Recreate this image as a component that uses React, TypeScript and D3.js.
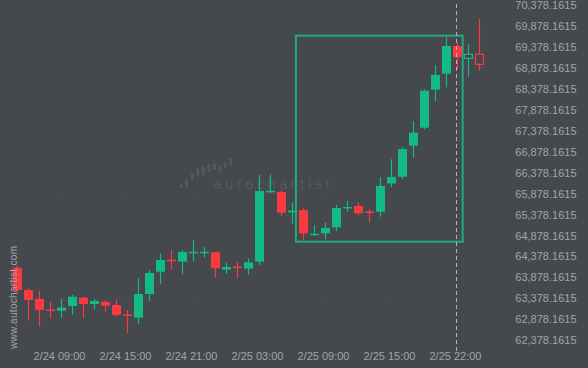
import React from "react";
import * as d3 from "d3";

const W = 588;
const H = 368;

// OHLC candles, hourly (index based)
const opens = [64110, 63578, 63364, 63113, 63085, 63197, 63395, 63244, 63292, 63221, 62994, 62918, 63483, 64015, 64301, 64254, 64473, 64473, 64478, 64063, 64139, 64087, 64254, 65929, 65917, 65428, 65487, 64907, 64931, 65074, 65540, 65583, 65451, 65447, 66119, 66282, 67021, 67451, 68357, 68739, 69400, 69107, 69202];
const highs = [64151, 63626, 63555, 63299, 63364, 63459, 63419, 63364, 63340, 63340, 63101, 63858, 64056, 64454, 64533, 64533, 64771, 64604, 64485, 64230, 64254, 64335, 66322, 66339, 65957, 65661, 65542, 65129, 65184, 65606, 65702, 65671, 65504, 66267, 66697, 66997, 67611, 68367, 68947, 69622, 69479, 69448, 70044];
const lows = [63507, 62846, 62703, 62903, 62918, 62982, 62918, 63125, 63061, 62941, 62553, 62760, 63316, 63714, 64072, 63953, 64258, 64349, 63872, 63967, 63858, 63936, 64175, 65886, 65351, 65165, 64771, 64867, 64788, 64979, 65447, 65361, 65194, 65327, 66029, 66220, 66745, 67413, 68088, 68415, 68844, 68668, 68811];
const closes = [63578, 63340, 63101, 63089, 63156, 63419, 63244, 63316, 63204, 62982, 62970, 63483, 63984, 64294, 64263, 64485, 64490, 64490, 64096, 64127, 64115, 64239, 65940, 65945, 65423, 65475, 64931, 64922, 65058, 65535, 65559, 65408, 65428, 66060, 66275, 66943, 67331, 68334, 68708, 69400, 69130, 69202, 68963];
const hollowFrom = 41; // last candles drawn as outlines

const xTickIndex = [4, 10, 16, 22, 28, 34, 40];
const xTickLabels = ["2/24 09:00", "2/24 15:00", "2/24 21:00", "2/25 03:00", "2/25 09:00", "2/25 15:00", "2/25 22:00"];
const yTicks = d3.range(0, 17).map((k) => 62378.1615 + 500 * k);

// pattern box (index range, price range) and marker index
const boxIndex = [25.4, 40.56];
const boxPrice = [64731, 69646];
const markerIndex = 40;

// watermark logo bars [x, yTop, yBottom]
const logoBars = [
  [181, 184, 188], [186.7, 179, 188], [192.3, 173, 180], [197.8, 168, 177], [203.3, 166, 175],
  [208.8, 164, 172], [214.3, 163, 170], [219.8, 166, 173], [225.3, 162, 168], [230.8, 158, 165],
];

const GREEN = "#12bb83";
const RED = "#fb3a3f";
const BG = "#45484d";
const TEXT = "#a2a5aa";

export default function App() {
  const x = d3.scaleLinear().domain([0, 1]).range([16.5, 27.5]);
  const y = d3.scaleLinear().domain([62378.1615, 70378.1615]).range([340.3, 5]);
  const bw = 9;
  const fmt = d3.format(",.4f");

  return (
    <svg width={W} height={H} style={{ display: "block", position: "absolute", left: 0, top: 0 }}
      fontFamily="'Liberation Sans', Arial, sans-serif">
      <rect x={0} y={0} width={W} height={H} fill={BG} />
      {/* grid */}
      {yTicks.map((t) => (
        <line key={"gy" + t} x1={0} x2={500} y1={y(t)} y2={y(t)} stroke="#494c51" strokeWidth={1} strokeDasharray="1,2" />
      ))}
      {xTickIndex.map((i) => (
        <line key={"gx" + i} x1={x(i)} x2={x(i)} y1={0} y2={350} stroke="#494c51" strokeWidth={1} strokeDasharray="1,2" />
      ))}
      {/* watermark */}
      <g fill="#55585d">
        {logoBars.map((b, i) => (
          <rect key={i} x={b[0] - 1.5} y={b[1]} width={3} height={b[2] - b[1]} rx={1.5} />
        ))}
        <text x={213} y={189} fontFamily="'DejaVu Sans', sans-serif" fontSize={14} letterSpacing={3}>autochartist</text>
      </g>
      {/* y labels */}
      {yTicks.map((t) => (
        <text key={"yl" + t} x={576.5} y={y(t) + 4} textAnchor="end" fontSize={11} fill={TEXT}>{fmt(t)}</text>
      ))}
      {/* x labels */}
      {xTickIndex.map((i, k) => (
        <text key={"xl" + i} x={x(i) - 1} y={360} textAnchor="middle" fontSize={11} fill={TEXT}>{xTickLabels[k]}</text>
      ))}
      {/* pattern box */}
      <rect x={x(boxIndex[0])} y={y(boxPrice[1])} width={x(boxIndex[1]) - x(boxIndex[0])} height={y(boxPrice[0]) - y(boxPrice[1])}
        fill="none" stroke="#1cb585" strokeOpacity={0.9} strokeWidth={2} />
      {/* candles */}
      {opens.map((o, i) => {
        const c = closes[i];
        const up = c >= o;
        const col = up ? GREEN : RED;
        const cx = Math.round(x(i)) + 0.5;
        const top = y(Math.max(o, c));
        const bot = y(Math.min(o, c));
        const hollow = i >= hollowFrom;
        const h = Math.max(1.5, bot - top);
        return (
          <g key={i}>
            {hollow ? (
              <>
                <line x1={cx} x2={cx} y1={y(highs[i])} y2={top} stroke={col} strokeWidth={1.2} />
                <line x1={cx} x2={cx} y1={top + h} y2={y(lows[i])} stroke={col} strokeWidth={1.2} />
                <rect x={cx - bw / 2 + 0.5} y={top} width={bw - 1} height={h} fill="none" stroke={col} strokeWidth={1.2} />
              </>
            ) : (
              <>
                <line x1={cx} x2={cx} y1={y(highs[i])} y2={y(lows[i])} stroke={col} strokeWidth={1.2} />
                <rect x={cx - bw / 2} y={top} width={bw} height={h} fill={col} />
              </>
            )}
          </g>
        );
      })}
      {/* marker line */}
      <line x1={x(markerIndex)} x2={x(markerIndex)} y1={4} y2={351} stroke="#b4b6ba" strokeWidth={1} strokeDasharray="4,3" />
      <text transform="translate(17,349) rotate(-90)" fontSize={10} fill="#a3a6aa" letterSpacing={0.3}>www.autochartist.com</text>
    </svg>
  );
}
